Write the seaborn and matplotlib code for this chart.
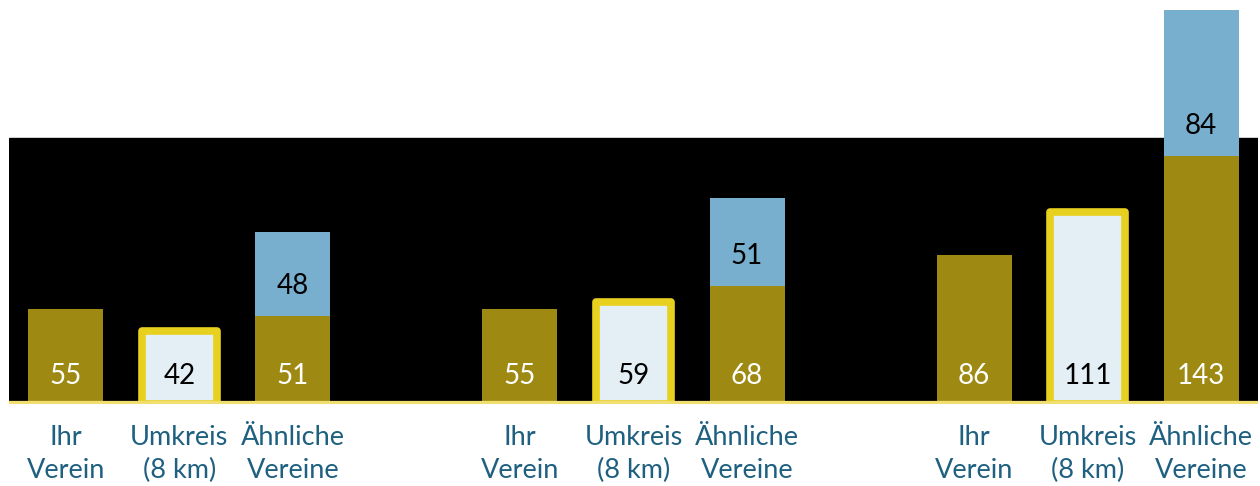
import pandas as pd
import numpy as np
import matplotlib.pyplot as plt
import seaborn as sns

# data
categories = ["Ihr\nVerein", "Umkreis\n(8 km)", "Ähnliche\nVereine"]
ihr_verein = [55, 55, 86]
umkreis = [42, 59, 111]
aehnliche = [51, 68, 143]
aehnliche_extra = [48, 51, 84]

olive = "#9E8A12"
blue = "#78AFCE"
pale = "#E3EEF5"
yellow = "#E8D01E"
label_col = "#1F6080"

# x positions: three bars per group, one empty slot between groups
pos = [g * 4 + i for g in range(3) for i in range(3)]
kinds = ["ihr", "umkreis", "aehnliche"] * 3
base = [v for trio in zip(ihr_verein, umkreis, aehnliche) for v in trio]
df = pd.DataFrame({"pos": pos, "value": base, "kind": kinds})

top_pos = [g * 4 + 2 for g in range(3)]
df_top = pd.DataFrame({
    "pos": top_pos,
    "value": [a + b for a, b in zip(aehnliche, aehnliche_extra)],
})

sns.set_style("white")
plt.rcParams['font.family'] = ['Lato', 'DejaVu Sans']

fig = plt.figure(figsize=(12.6, 4.86), dpi=100)
ax = fig.add_axes([9 / 1260, 82 / 486, 1249 / 1260, 404 / 486])

ax.axhspan(0, 153.5, color="black", zorder=0)

# stacked part: draw totals in blue, base bars over them
# (native_scale scales width by the spacing of the positions, here 4)
sns.barplot(data=df_top, x="pos", y="value", native_scale=True, width=0.66 / 4,
            color=blue, saturation=1, linewidth=0, ax=ax, zorder=2)
sns.barplot(data=df, x="pos", y="value", hue="kind", native_scale=True,
            width=0.66, dodge=False, saturation=1, legend=False, linewidth=0,
            ax=ax, palette={"ihr": olive, "umkreis": pale, "aehnliche": olive},
            hue_order=["ihr", "umkreis", "aehnliche"], zorder=3)

# yellow frame on the Umkreis bars
pale_rgb = np.array(plt.matplotlib.colors.to_rgb(pale))
for p in ax.patches:
    if np.allclose(p.get_facecolor()[:3], pale_rgb, atol=0.01):
        p.set_edgecolor(yellow)
        p.set_linewidth(5.5)
        p.set_joinstyle("round")

ax.axhline(0, color="#F0DE70", lw=4.5, zorder=5)

# value labels
for x, v, k in zip(pos, base, kinds):
    ax.annotate(str(v), (x, 0), xytext=(0, 20), textcoords="offset points",
                ha="center", va="center", fontsize=20,
                color="black" if k == "umkreis" else "white", zorder=6)
for g in range(3):
    ax.annotate(str(aehnliche_extra[g]), (top_pos[g], aehnliche[g]), xytext=(0, 21.5),
                textcoords="offset points", ha="center", va="center",
                fontsize=20, color="black", zorder=6)

ax.set_xlim(-0.5, 10.5)
ax.set_ylim(0, 233)
ax.set_xticks(pos)
ax.set_xticklabels(categories * 3, fontsize=19.5, color=label_col, linespacing=1.42)
ax.tick_params(axis="x", length=0, pad=15)
ax.set_yticks([])
ax.set_xlabel("")
ax.set_ylabel("")
ax.set_facecolor("white")
sns.despine(ax=ax, left=True, bottom=True)

fig.savefig("out.png", dpi=100)
